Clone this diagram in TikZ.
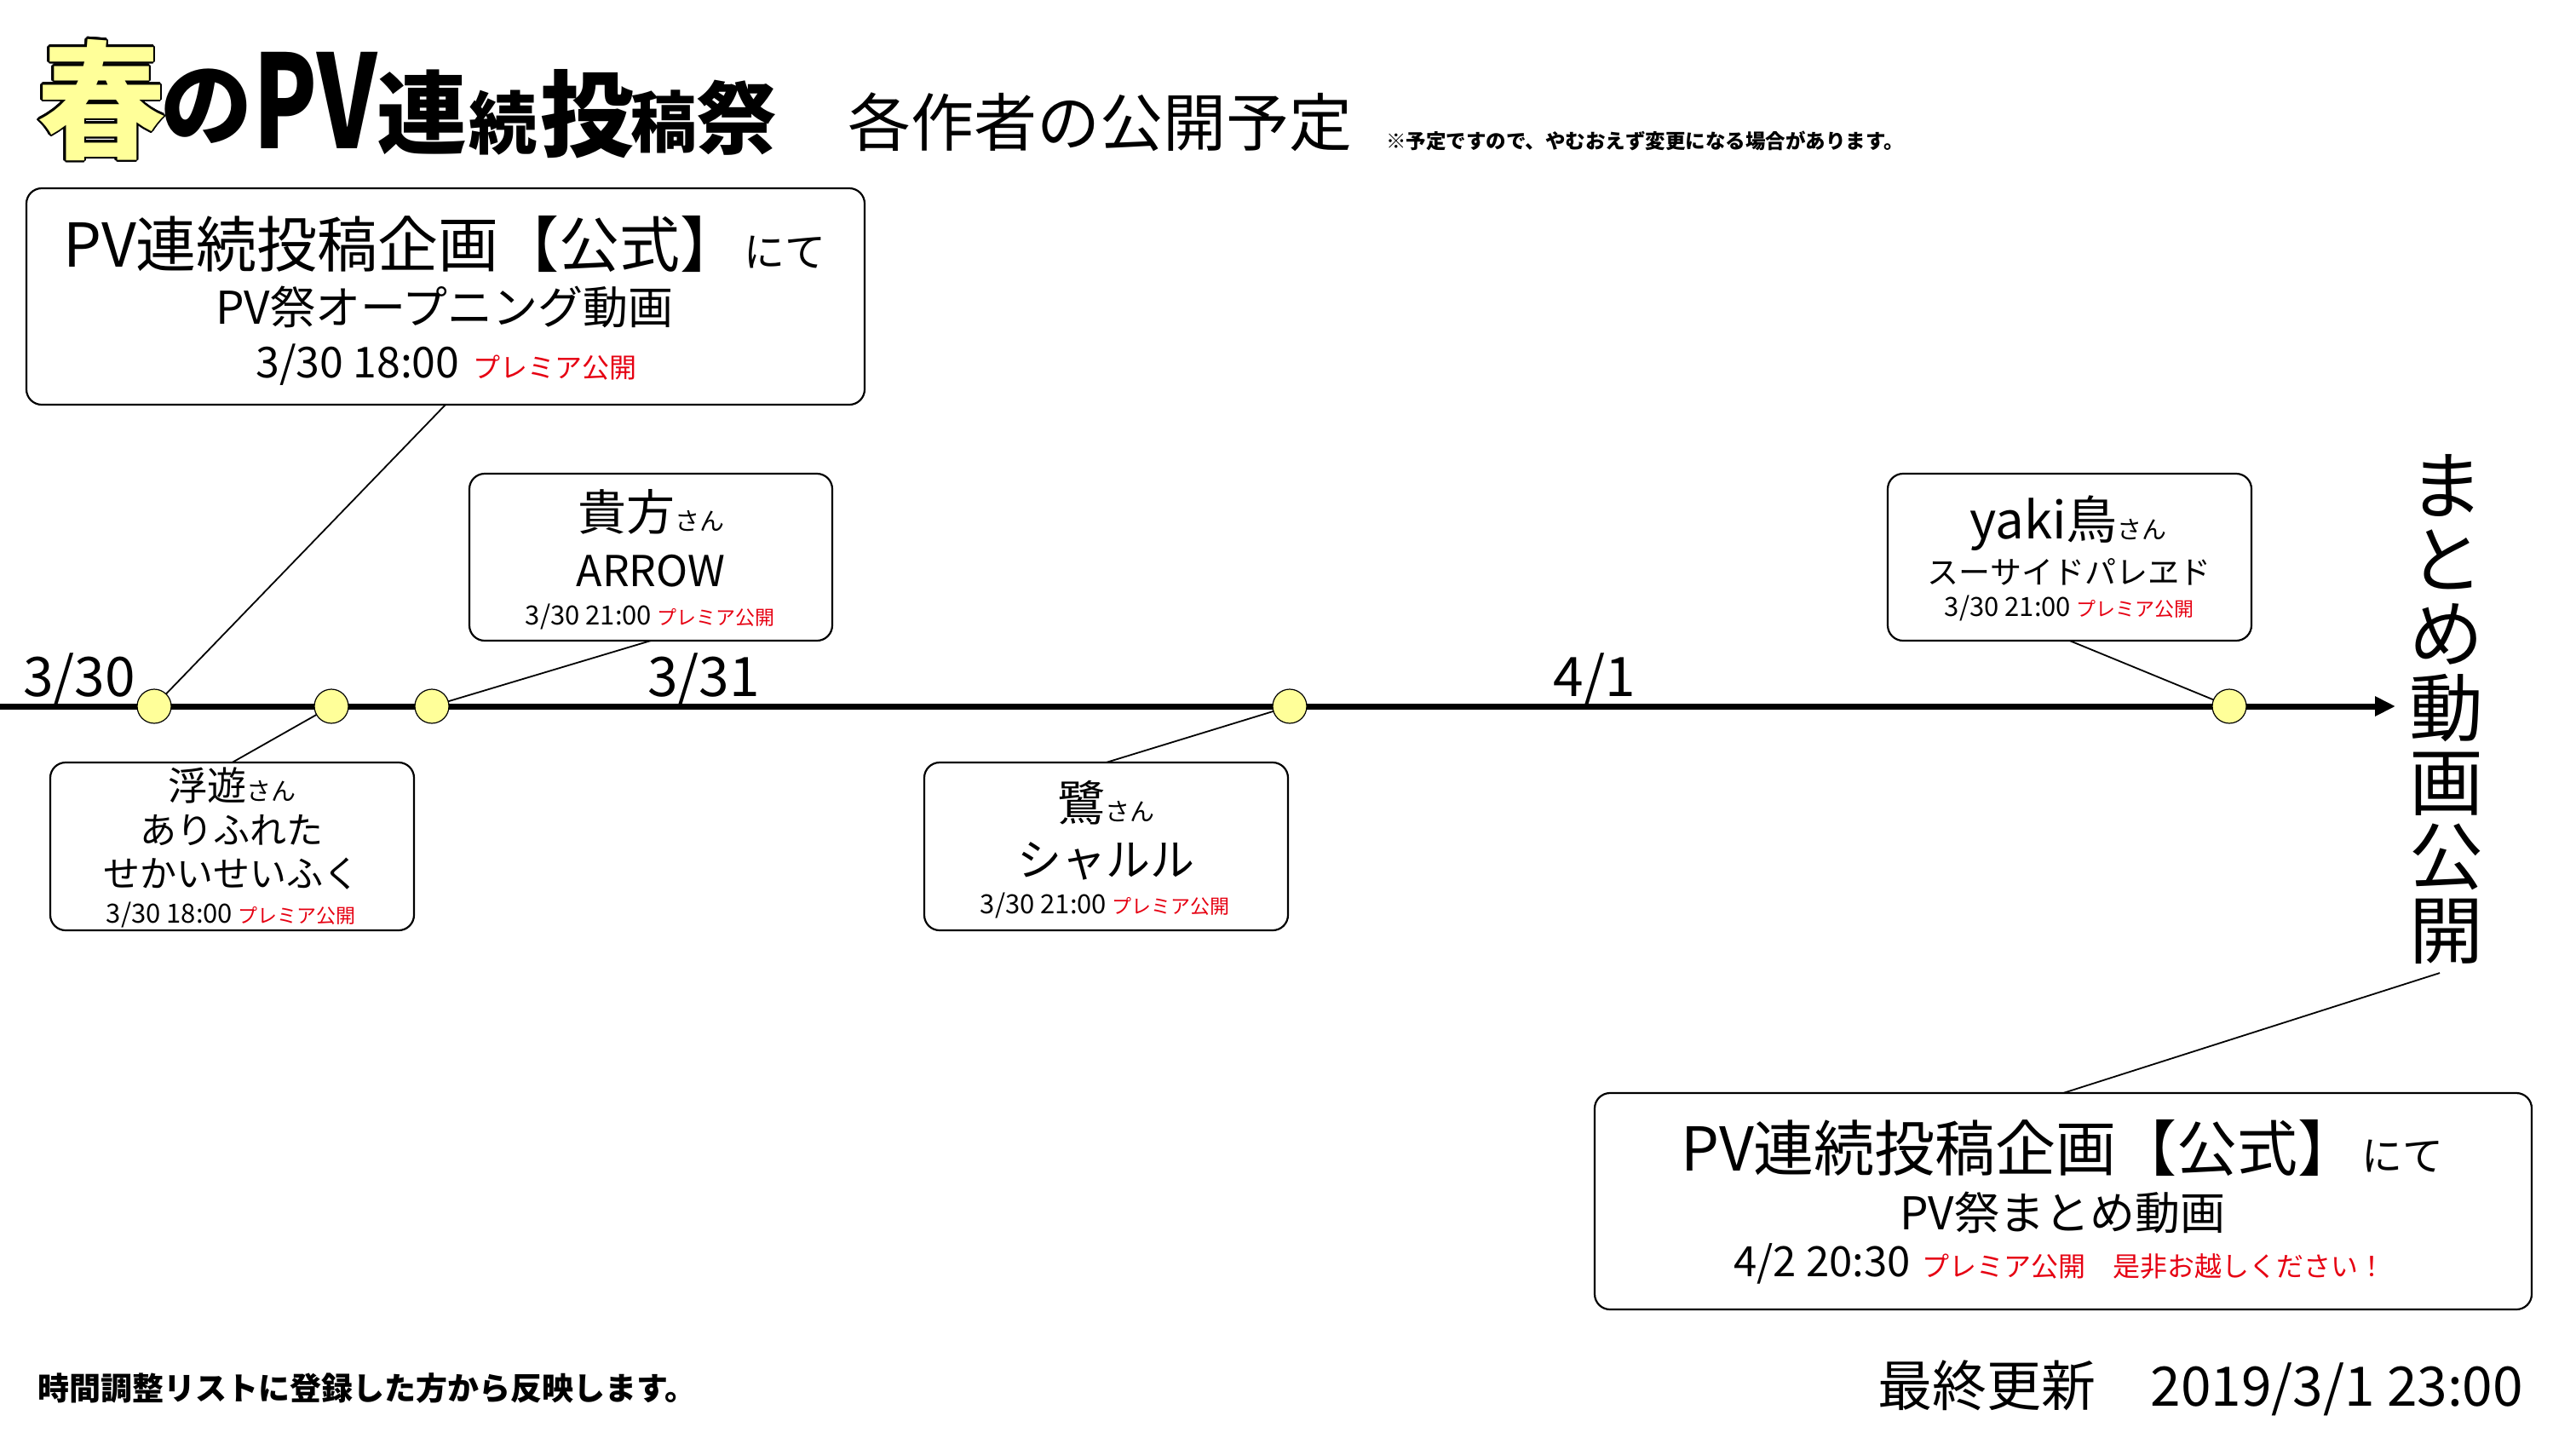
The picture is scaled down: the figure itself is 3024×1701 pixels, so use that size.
\documentclass[tikz,border=0pt]{standalone}
\usepackage{fontspec}
\usepackage{graphicx}
\setmainfont{Noto Sans CJK JP}
\usetikzlibrary{arrows.meta}
\definecolor{haru}{RGB}{255,255,153}
\definecolor{pred}{RGB}{230,0,18}
\newcommand{\fsz}[1]{\fontsize{#1}{#1}\selectfont}
\begin{document}
\begin{tikzpicture}[x=1pt,y=-1pt,
  every node/.style={inner sep=0pt,outer sep=0pt},
  box/.style={draw,line width=2.2pt,rounded corners=18pt,fill=white},
  txt/.style={anchor=base,align=center},
  ttl/.style={anchor=center,font=\bfseries},
  dot/.style={circle,draw,line width=1.2pt,fill=haru,minimum size=40pt},
  conn/.style={line width=1.8pt},
  tline/.style={line width=7pt,-{Triangle[length=24pt,width=22pt]}}]
\useasboundingbox (0,0) rectangle (3024,1701);
\fill[white] (0,0) rectangle (3024,1701);

% ---- title ----
\foreach \a [count=\i] in {0,22.5,...,337.5}
  \path (119,117) ++(\a:2.2) node[ttl,text=black] (harub\i) {\fsz{150}春};
\node[ttl,text=haru] (haru) at (119,117) {\fsz{150}春};
\node[ttl] (tno) at (242,125) {\fsz{108}の};
\node[ttl] (tpv) at (370,118) {\fsz{152}\scalebox{0.72}[1]{PV}};
\node[ttl] (tren) at (495,132) {\fsz{106}連};
\node[ttl] (tzoku) at (590,144) {\fsz{80}続};
\node[ttl] (tto) at (689,134) {\fsz{110}投};
\node[ttl] (tkou) at (779,143) {\fsz{78}稿};
\node[ttl] (tsai) at (865,138) {\fsz{93}祭};
\node[anchor=center] (sub) at (1291,143) {\fsz{74}各作者の公開予定};
\node[anchor=center,font=\bfseries] (note) at (1931,165) {\fsz{23.5}※予定ですので、やむおえず変更になる場合があります。};

% ---- timeline ----
\coordinate (tl0) at (0,829);
\coordinate (tip) at (2812,829);
\draw[tline] (tl0) -- (tip);
\node[txt] (d1) at (93,817) {\fsz{64}3/30};
\node[txt] (d2) at (826,817) {\fsz{64}3/31};
\node[txt] (d3) at (1872,817) {\fsz{64}4/1};

\node[dot] (c1) at (181,829) {};
\node[dot] (c2) at (389,829) {};
\node[dot] (c3) at (507,829) {};
\node[dot] (c4) at (1514,829) {};
\node[dot] (c5) at (2617,829) {};

% ---- boxes ----
\node[box,minimum width=984pt,minimum height=254pt] (b1) at (523,348) {};
\node[box,minimum width=426pt,minimum height=196pt] (b2) at (764,654) {};
\node[box,minimum width=427pt,minimum height=197pt] (b3) at (272.5,993.5) {};
\node[box,minimum width=427pt,minimum height=197pt] (b4) at (1298.5,993.5) {};
\node[box,minimum width=427pt,minimum height=196pt] (b5) at (2429.5,654) {};
\node[box,minimum width=1100pt,minimum height=254pt] (b6) at (2422,1410) {};

% box 1
\node[txt] (b1l1) at (522,313) {\fsz{71}PV連続投稿企画【公式】\hspace{4pt}\fsz{48}にて};
\node[txt] (b1l2) at (522,380) {\fsz{53}PV祭オープニング動画};
\node[txt] (b1l3) at (524,443) {\fsz{50}3/30 18:00\hspace{16pt}{\color{pred}\fsz{32}プレミア公開}};
% box 2
\node[txt] (b2l1) at (764,622) {\fsz{57}貴方\fsz{29}さん};
\node[txt] (b2l2) at (764,688) {\fsz{50}ARROW};
\node[txt] (b2l3) at (763,733) {\fsz{31}3/30 21:00\hspace{6pt}{\color{pred}\fsz{23}プレミア公開}};
% box 3
\node[txt] (b3l1) at (272,939) {\fsz{46}浮遊\fsz{29}さん};
\node[txt] (b3l2) at (272,990) {\fsz{43}ありふれた};
\node[txt] (b3l3) at (272,1041) {\fsz{43}せかいせいふく};
\node[txt] (b3l4) at (271,1083) {\fsz{31}3/30 18:00\hspace{6pt}{\color{pred}\fsz{23}プレミア公開}};
% box 4
\node[txt] (b4l1) at (1298,963) {\fsz{56}鷺\fsz{29}さん};
\node[txt] (b4l2) at (1298,1028) {\fsz{52}シャルル};
\node[txt] (b4l3) at (1297,1072) {\fsz{31}3/30 21:00\hspace{6pt}{\color{pred}\fsz{23}プレミア公開}};
% box 5
\node[txt] (b5l1) at (2428,632) {\fsz{60}yaki鳥\fsz{29}さん};
\node[txt] (b5l2) at (2429,685) {\fsz{37}スーサイドパレヱド};
\node[txt] (b5l3) at (2429,723) {\fsz{31}3/30 21:00\hspace{6pt}{\color{pred}\fsz{23}プレミア公開}};
% box 6
\node[txt] (b6l1) at (2421,1374) {\fsz{71}PV連続投稿企画【公式】\hspace{4pt}\fsz{48}にて};
\node[txt] (b6l2) at (2421,1443) {\fsz{53}PV祭まとめ動画};
\node[txt] (b6l3) at (2418,1498) {\fsz{49}4/2 20:30\hspace{14pt}{\color{pred}\fsz{32}プレミア公開　是非お越しください！}};

% vertical text
\node[anchor=center,align=center,font=\fsz{87}] (vt) at (2872,832) {ま\\と\\め\\動\\画\\公\\開};
\coordinate (vtend) at ([shift={(-8,11)}]vt.south);

% ---- connectors ----
\draw[conn] (b1.south) -- (c1);
\draw[conn] (b2.south) -- (c3);
\draw[conn] (b3.north) -- (c2);
\draw[conn] (b4.north) -- (c4);
\draw[conn] (b5.south) -- (c5);
\draw[conn] (b6.north) -- (vtend);

% ---- footer ----
\node[anchor=base west,font=\bfseries] (foot1) at (44,1643) {\fsz{37}時間調整リストに登録した方から反映します。};
\node[anchor=base east] (foot2) at (2962,1650) {\fsz{64}最終更新　2019/3/1 23:00};
\end{tikzpicture}
\end{document}
